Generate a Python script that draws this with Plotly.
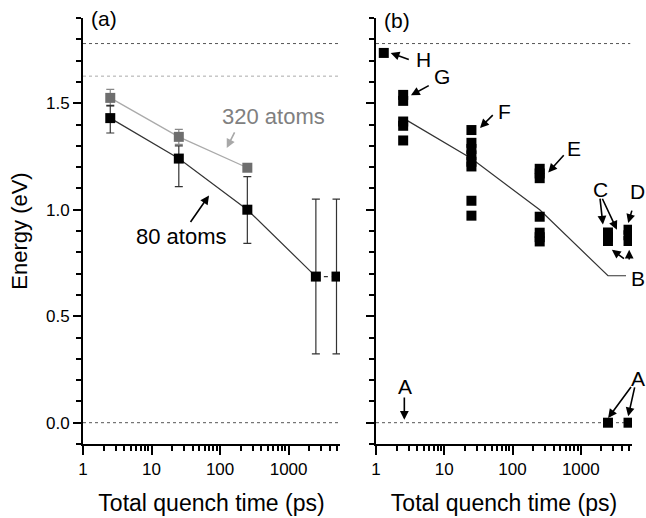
import plotly.graph_objects as go

# ---------------- data ----------------
t_80 = [2.5, 25, 250, 2500, 5000]
e_80 = [1.43, 1.24, 1.00, 0.686, 0.686]
err_80_plus = [0.06, 0.06, 0.155, 0.364, 0.364]
err_80_minus = [0.07, 0.132, 0.158, 0.363, 0.363]

t_320 = [2.5, 25, 250]
e_320 = [1.525, 1.342, 1.197]
err_320 = [0.04, 0.035, 0.015]

# panel (b): individual quench results
t_b = ([1.3] +
       [2.5] * 5 +
       [25] * 8 +
       [250] * 7 +
       [2500] * 3 +
       [5000] * 3 +
       [2500, 5000])
e_b = ([1.736] +
       [1.539, 1.511, 1.414, 1.394, 1.325] +
       [1.374, 1.314, 1.285, 1.255, 1.225, 1.203, 1.042, 0.972] +
       [1.192, 1.170, 1.148, 0.967, 0.892, 0.871, 0.851] +
       [0.893, 0.873, 0.853] +
       [0.906, 0.880, 0.853] +
       [0.0, 0.0])

# average line in panel (b)
t_avg_b = [2.5, 25, 250, 2500, 4600]
e_avg_b = [1.43, 1.24, 1.00, 0.69, 0.69]

ref_levels_a = [1.78, 1.627, 0.0]
ref_colors_a = ["#555555", "#aaaaaa", "#555555"]
ref_levels_b = [1.78, 0.0]
ref_x = [1, 5300]

x_ticks = [1, 10, 100, 1000]
x_tick_text = ["1", "10", "100", "1000"]
x_minor = [m * d for d in (1, 10, 100, 1000) for m in range(2, 10) if m * d < 5600]

FONT = "Liberation Sans, Arial, sans-serif"

fig = go.Figure()

# reference dotted lines
for lvl, col in zip(ref_levels_a, ref_colors_a):
    fig.add_trace(go.Scatter(x=ref_x, y=[lvl, lvl], mode="lines",
                             line=dict(color=col, width=1, dash="dot"),
                             xaxis="x", yaxis="y", hoverinfo="skip"))
for lvl in ref_levels_b:
    fig.add_trace(go.Scatter(x=ref_x, y=[lvl, lvl], mode="lines",
                             line=dict(color="#555555", width=1, dash="dot"),
                             xaxis="x2", yaxis="y2", hoverinfo="skip"))

# 320 atoms
fig.add_trace(go.Scatter(x=t_320, y=e_320, mode="lines+markers",
                         line=dict(color="#aaaaaa", width=1.3),
                         marker=dict(symbol="square", size=10, color="#6e6e6e"),
                         error_y=dict(type="data", array=err_320, color="#888888",
                                      thickness=1.2, width=4),
                         xaxis="x", yaxis="y"))
# 80 atoms
fig.add_trace(go.Scatter(x=t_80[:4], y=e_80[:4], mode="lines",
                         line=dict(color="#333333", width=1.2),
                         xaxis="x", yaxis="y", hoverinfo="skip"))
fig.add_trace(go.Scatter(x=t_80[3:], y=e_80[3:], mode="lines",
                         line=dict(color="#333333", width=1.2, dash="4px,4px"),
                         xaxis="x", yaxis="y", hoverinfo="skip"))
fig.add_trace(go.Scatter(x=t_80, y=e_80, mode="markers",
                         marker=dict(symbol="square", size=10, color="black"),
                         error_y=dict(type="data", array=err_80_plus,
                                      arrayminus=err_80_minus, color="#333333",
                                      thickness=1.2, width=4),
                         xaxis="x", yaxis="y"))

# panel b
fig.add_trace(go.Scatter(x=t_avg_b, y=e_avg_b, mode="lines",
                         line=dict(color="#333333", width=1.2),
                         xaxis="x2", yaxis="y2", hoverinfo="skip"))
fig.add_trace(go.Scatter(x=t_b, y=e_b, mode="markers",
                         marker=dict(symbol="square", size=10, color="black",
                                     line=dict(width=0)),
                         xaxis="x2", yaxis="y2"))

xaxis_common = dict(type="log", range=[0, 3.75], showgrid=False, zeroline=False,
                    showline=True, linecolor="black", linewidth=2,
                    ticks="outside", ticklen=9, tickwidth=1.8, tickcolor="black",
                    tickmode="array", tickvals=x_ticks, ticktext=x_tick_text,
                    minor=dict(ticks="outside", ticklen=5, tickwidth=1.5,
                               tickcolor="black", tickmode="array", tickvals=x_minor),
                    tickfont=dict(family=FONT, size=17, color="black"),
                    title=dict(text="Total quench time (ps)",
                               font=dict(family=FONT, size=23, color="black"),
                               standoff=16),
                    automargin=False, mirror=False)
yaxis_common = dict(range=[-0.1, 1.9], showgrid=False, zeroline=False,
                    showline=True, linecolor="black", linewidth=2,
                    ticks="outside", ticklen=8, tickwidth=1.8, tickcolor="black",
                    tickmode="array", tickvals=[0, 0.5, 1.0, 1.5],
                    minor=dict(ticks="outside", ticklen=5, tickwidth=1.5,
                               tickcolor="black", dtick=0.1),
                    tickfont=dict(family=FONT, size=17, color="black"),
                    automargin=False, mirror=False)

xa = dict(xaxis_common, domain=[83 / 646, 340 / 646], anchor="y")
xb = dict(xaxis_common, domain=[376 / 646, 632 / 646], anchor="y2")
ya = dict(yaxis_common, domain=[1 - 444 / 518, 1 - 18 / 518], anchor="x",
          ticktext=["0.0", "0.5", "1.0", "1.5"],
          title=dict(text="Energy (eV)", font=dict(family=FONT, size=22, color="black"),
                     standoff=12))
yb = dict(yaxis_common, domain=[1 - 444 / 518, 1 - 18 / 518], anchor="x2",
          showticklabels=False)

ann = []


def label(text, x, y, xref="paper", yref="paper", size=21, color="black"):
    ann.append(dict(text=text, x=x, y=y, xref=xref, yref=yref, showarrow=False,
                    xanchor="center", yanchor="middle",
                    font=dict(family=FONT, size=size, color=color)))


def arrow(x, y, ax, ay, xref, yref, color="black"):
    ann.append(dict(text=" ", x=x, y=y, ax=ax, ay=ay, xref=xref, yref=yref,
                    showarrow=True, arrowhead=2, arrowsize=1.1, arrowwidth=1.6,
                    arrowcolor=color, standoff=0, borderpad=0,
                    font=dict(size=1)))


def px(xp, yp):
    return xp / 646, 1 - yp / 518


label("(a)", *px(104, 18.5))
label("(b)", *px(397, 20))
label("320 atoms", *px(273.5, 116.7), size=22, color="#808080")
label("80 atoms", *px(181, 236.7), size=22)
arrow(2.098, 1.290, 8.3, -16.6, "x", "y", color="#a8a8a8")
arrow(1.839, 1.067, -19, 27.3, "x", "y")

label("H", *px(423.3, 60))
arrow(0.215, 1.736, 18.6, 6.7, "x2", "y2")
label("G", *px(441.7, 76))
arrow(0.512, 1.537, 18.3, -10, "x2", "y2")
label("F", *px(504, 111))
arrow(1.523, 1.384, 13.3, -13.3, "x2", "y2")
label("E", *px(574, 148.3))
arrow(2.523, 1.175, 16, -17.7, "x2", "y2")
label("C", *px(600, 190))
arrow(3.324, 0.930, -3, -27, "x2", "y2")
arrow(3.529, 0.906, -15, -32, "x2", "y2")
label("D", *px(637, 191.7))
arrow(3.694, 0.938, 4, -13.3, "x2", "y2")
label("B", *px(637.5, 278.3))
arrow(3.455, 0.812, 12.6, 9.3, "x2", "y2")
arrow(3.709, 0.812, 0, 10.7, "x2", "y2")
label("A", *px(405, 386.7))
arrow(0.415, 0.014, 0, -23.3, "x2", "y2")
label("A", *px(637.5, 378.3))
arrow(3.40, 0.022, 23.4, -31.6, "x2", "y2")
arrow(3.694, 0.030, 6.7, -30, "x2", "y2")

fig.update_layout(width=646, height=518, margin=dict(l=0, r=0, t=0, b=0),
                  paper_bgcolor="white", plot_bgcolor="white",
                  showlegend=False, xaxis=xa, xaxis2=xb, yaxis=ya, yaxis2=yb,
                  annotations=ann, font=dict(family=FONT))

fig.write_html("out.html",
               config={"displayModeBar": False},
               post_script="document.body.style.margin='0';"
                           "document.body.style.padding='0';"
                           "document.body.style.overflow='hidden';")
